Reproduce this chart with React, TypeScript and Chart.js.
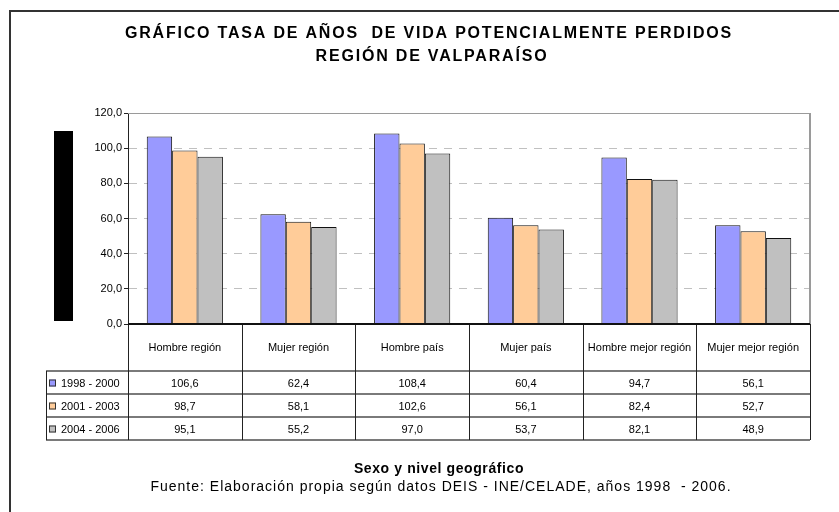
import React, { useEffect, useRef } from "react";
import { Chart, registerables } from "chart.js";

Chart.register(...registerables);

const titleLines = [
  "GRÁFICO TASA DE AÑOS  DE VIDA POTENCIALMENTE PERDIDOS",
  "REGIÓN DE VALPARAÍSO",
];
const xAxisTitle = "Sexo y nivel geográfico";
const sourceNote = "Fuente: Elaboración propia según datos DEIS - INE/CELADE, años 1998  - 2006.";

const categories = [
  "Hombre región",
  "Mujer región",
  "Hombre país",
  "Mujer país",
  "Hombre mejor región",
  "Mujer mejor región",
];
const seriesLabels = ["1998 - 2000", "2001 - 2003", "2004 - 2006"];
const values1998_2000 = [106.6, 62.4, 108.4, 60.4, 94.7, 56.1];
const values2001_2003 = [98.7, 58.1, 102.6, 56.1, 82.4, 52.7];
const values2004_2006 = [95.1, 55.2, 97.0, 53.7, 82.1, 48.9];
const seriesColors = ["#9999FF", "#FFCC99", "#C0C0C0"];
const yTicks = [0, 20, 40, 60, 80, 100, 120];

const fmt = (v: number) => v.toFixed(1).replace(".", ",");

const FONT = "'Liberation Sans', Arial, sans-serif";

const decorPlugin = {
  id: "decor",
  afterDraw(chart: any) {
    const { ctx, chartArea } = chart;
    const { left, right, top, bottom } = chartArea;
    const n = categories.length;
    const cw = (right - left) / n;
    const data = [values1998_2000, values2001_2003, values2004_2006];

    ctx.save();
    // outer frame
    ctx.strokeStyle = "#333333";
    ctx.lineWidth = 2;
    ctx.beginPath();
    ctx.moveTo(10, 512);
    ctx.lineTo(10, 11);
    ctx.lineTo(839, 11);
    ctx.stroke();

    // title
    ctx.fillStyle = "#000";
    ctx.textAlign = "center";
    ctx.textBaseline = "middle";
    ctx.font = `bold 16px ${FONT}`;
    (ctx as any).letterSpacing = "1.8px";
    ctx.fillText(titleLines[0], 429, 34);
    ctx.fillText(titleLines[1], 432, 57);
    (ctx as any).letterSpacing = "0px";

    // black block at y-axis title position
    ctx.fillStyle = "#000";
    ctx.fillRect(54, 131, 19, 190);

    // plot frame top and right
    ctx.strokeStyle = "#9a9a9a";
    ctx.lineWidth = 1;
    ctx.beginPath();
    ctx.moveTo(left, top + 0.5);
    ctx.lineTo(right, top + 0.5);
    ctx.stroke();
    ctx.lineWidth = 2;
    ctx.beginPath();
    ctx.moveTo(right, top);
    ctx.lineTo(right, bottom);
    ctx.stroke();

    // table geometry
    const headerBottom = bottom + 47;
    const rowH = 23;
    const tableBottom = headerBottom + rowH * 3;
    const legLeft = 46;

    // horizontal lines
    ctx.strokeStyle = "#7a7a7a";
    ctx.lineWidth = 2;
    for (let r = 0; r <= 3; r++) {
      const y = headerBottom + r * rowH;
      ctx.beginPath();
      ctx.moveTo(legLeft, y);
      ctx.lineTo(right, y);
      ctx.stroke();
    }
    // vertical lines
    ctx.strokeStyle = "#222";
    ctx.lineWidth = 1;
    for (let i = 0; i <= n; i++) {
      const x = Math.round(left + i * cw) + 0.5;
      ctx.beginPath();
      ctx.moveTo(x, bottom);
      ctx.lineTo(x, tableBottom);
      ctx.stroke();
    }
    ctx.beginPath();
    ctx.moveTo(legLeft + 0.5, headerBottom);
    ctx.lineTo(legLeft + 0.5, tableBottom);
    ctx.stroke();

    // x axis line
    ctx.strokeStyle = "#111";
    ctx.lineWidth = 2;
    ctx.beginPath();
    ctx.moveTo(left, bottom);
    ctx.lineTo(right, bottom);
    ctx.stroke();

    // header labels
    ctx.fillStyle = "#000";
    ctx.font = `11px ${FONT}`;
    ctx.textAlign = "center";
    ctx.textBaseline = "middle";
    for (let i = 0; i < n; i++) {
      const cx = left + (i + 0.5) * cw;
      ctx.fillText(categories[i], cx, bottom + 24);
    }
    // rows
    for (let s = 0; s < 3; s++) {
      const cy = headerBottom + s * rowH + rowH / 2 + 1;
      for (let i = 0; i < n; i++) {
        const cx = left + (i + 0.5) * cw;
        ctx.textAlign = "center";
        ctx.fillText(fmt(data[s][i]), cx, cy);
      }
      // legend key
      ctx.fillStyle = seriesColors[s];
      ctx.fillRect(49, cy - 4, 7, 7);
      ctx.strokeStyle = "#333";
      ctx.lineWidth = 1;
      ctx.strokeRect(49.5, cy - 3.5, 6, 6);
      ctx.fillStyle = "#000";
      ctx.textAlign = "left";
      ctx.fillText(seriesLabels[s], 61, cy);
    }

    // bottom titles
    ctx.textAlign = "center";
    ctx.font = `bold 14px ${FONT}`;
    (ctx as any).letterSpacing = "0.6px";
    ctx.fillText(xAxisTitle, 439, 469);
    ctx.font = `14px ${FONT}`;
    (ctx as any).letterSpacing = "1px";
    ctx.fillText(sourceNote, 441, 487);
    (ctx as any).letterSpacing = "0px";
    ctx.restore();
  },
};

export default function App() {
  const ref = useRef<HTMLCanvasElement | null>(null);
  useEffect(() => {
    if (!ref.current) return;
    const chart = new Chart(ref.current, {
      type: "bar",
      data: {
        labels: categories,
        datasets: [values1998_2000, values2001_2003, values2004_2006].map((d, i) => ({
          label: seriesLabels[i],
          data: d,
          backgroundColor: seriesColors[i],
          borderColor: "#111",
          borderWidth: 1,
          categoryPercentage: 0.67,
          barPercentage: 1,
        })),
      },
      options: {
        responsive: false,
        animation: false,
        layout: { padding: { top: 113, right: 29, bottom: 188, left: 0 } },
        plugins: {
          legend: { display: false },
          title: { display: false },
          tooltip: { enabled: false },
        },
        scales: {
          x: { display: false },
          y: {
            min: 0,
            max: 120,
            afterFit: (s: any) => {
              s.width = 128;
            },
            afterBuildTicks: (s: any) => {
              s.ticks = yTicks.map((v) => ({ value: v }));
            },
            ticks: {
              padding: 2,
              color: "#000",
              font: { family: FONT, size: 11 },
              callback: (v: any) => fmt(Number(v)),
            },
            grid: {
              color: (c: any) =>
                c.tick && (c.tick.value === 0 || c.tick.value === 120) ? "rgba(0,0,0,0)" : "#c0c0c0",
              tickColor: "#222",
              tickLength: 4,
              lineWidth: 1,
            },
            border: { display: true, color: "#222", width: 1, dash: [8, 7] },
          },
        },
      },
      plugins: [decorPlugin],
    });
    return () => chart.destroy();
  }, []);
  return (
    <div style={{ position: "absolute", left: 0, top: 0, width: 839, height: 512, background: "#fff" }}>
      <canvas ref={ref} width={839} height={512} style={{ display: "block" }} />
    </div>
  );
}
